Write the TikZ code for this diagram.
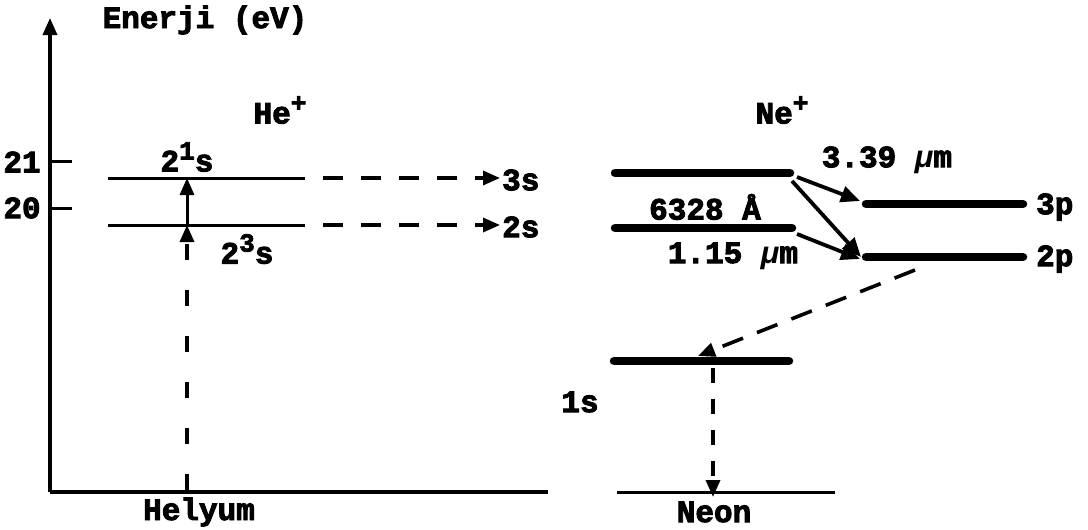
\documentclass[tikz,border=0pt]{standalone}
\usepackage{fontspec}
\setmainfont{Liberation Mono}[BoldFeatures={FakeBold=3}]
\usetikzlibrary{arrows.meta}
\newcommand{\supx}[1]{\raisebox{12pt}{\fontsize{26}{26}\selectfont #1}}
\begin{document}
\begin{tikzpicture}[x=1pt,y=-1pt,
  lbl/.style={inner sep=0pt, font=\fontsize{31}{36}\selectfont\bfseries},
  axis/.style={line width=3.4pt},
  hlev/.style={line width=3pt},
  nlev/.style={line width=8.5pt, line cap=round},
  tipa/.style={-{Triangle[length=17pt,width=14pt]}},
  hdash/.style={line width=3.4pt, dash pattern=on 20pt off 18pt},
  vdash/.style={line width=3.4pt, dash pattern=on 16pt off 30pt},
  ndash/.style={line width=3.6pt, dash pattern=on 22pt off 15pt},
  nvdash/.style={line width=3.4pt, dash pattern=on 15pt off 16pt},
  tarrow/.style={line width=3.8pt, -{Triangle[length=19pt,width=16pt]}}
]
\useasboundingbox (0,0) rectangle (1088,530);
% axes
\coordinate (orig) at (50,492);
\coordinate (ytop) at (50,18);
\coordinate (xend) at (548,492);
\draw[axis,tipa] (orig) -- (ytop);
\draw[axis] (orig) -- (xend);
\coordinate (t21) at (50,161); \coordinate (t21e) at (72,161);
\coordinate (t20) at (50,208); \coordinate (t20e) at (72,208);
\draw[hlev] (t21) -- (t21e);
\draw[hlev] (t20) -- (t20e);
\node[lbl] (l21) at (22,162) {21};
\node[lbl] (l20) at (22,208) {20};
\node[lbl] (ylab) at (205,20) {Enerji (eV)};
% Helium
\node[lbl] (hep) at (280,110) {He\supx{+}};
\coordinate (h1a) at (108,178); \coordinate (h1b) at (305,178);
\coordinate (h2a) at (108,225); \coordinate (h2b) at (305,225);
\draw[hlev] (h1a) -- (h1b);
\draw[hlev] (h2a) -- (h2b);
\node[lbl] (l21s) at (187,157) {2\supx{1}s};
\node[lbl] (l23s) at (247,249) {2\supx{3}s};
\coordinate (hu) at (187,178); \coordinate (hl) at (187,225);
\coordinate (hb) at (187,490);
\draw[line width=3pt,tipa] (hl) -- (hu);
\draw[vdash,tipa] (hb) -- (hl);
\coordinate (d1a) at (323,178); \coordinate (d1b) at (500,178);
\coordinate (d2a) at (323,225); \coordinate (d2b) at (500,225);
\draw[hdash,tipa] (d1a) -- (d1b);
\draw[hdash,tipa] (d2a) -- (d2b);
\node[lbl,anchor=west] (s3) at (502,180) {3s};
\node[lbl,anchor=west] (s2) at (502,227) {2s};
\node[lbl] (hely) at (199,512) {Helyum};
% Neon
\node[lbl] (nep) at (782,110) {Ne\supx{+}};
\coordinate (n3a) at (615,173); \coordinate (n3b) at (790,173);
\coordinate (n2a) at (615,228); \coordinate (n2b) at (792,228);
\coordinate (p3a) at (866,204); \coordinate (p3b) at (1023,204);
\coordinate (p2a) at (866,257); \coordinate (p2b) at (1023,257);
\coordinate (n1a) at (614,361); \coordinate (n1b) at (789,361);
\draw[nlev] (n3a) -- (n3b);
\draw[nlev] (n2a) -- (n2b);
\draw[nlev] (p3a) -- (p3b);
\draw[nlev] (p2a) -- (p2b);
\draw[nlev] (n1a) -- (n1b);
\coordinate (nba) at (617,492); \coordinate (nbb) at (835,492);
\draw[line width=3pt] (nba) -- (nbb);
\coordinate (a1s) at (797,177); \coordinate (a1e) at (860,201);
\coordinate (a2s) at (792,181); \coordinate (a2e) at (861,257);
\coordinate (a3s) at (797,234); \coordinate (a3e) at (860,259);
\draw[tarrow] (a1s) -- (a1e);
\draw[tarrow] (a2s) -- (a2e);
\draw[tarrow] (a3s) -- (a3e);
\coordinate (ds) at (915,270); \coordinate (de) at (698,356);
\draw[ndash,tipa] (ds) -- (de);
\coordinate (vs) at (713,368); \coordinate (ve) at (713,497);
\draw[nvdash,tipa] (vs) -- (ve);
\node[lbl] (w1) at (887,160) {3.39 {\itshape µ}m};
\node[lbl] (w2) at (705,207) {6328 Å};
\node[lbl] (w3) at (733,256) {1.15 {\itshape µ}m};
\node[lbl,anchor=west] (l3p) at (1036,207) {3p};
\node[lbl,anchor=west] (l2p) at (1036,259) {2p};
\node[lbl] (l1s) at (580,402) {1s};
\node[lbl] (neon) at (714,512) {Neon};
\end{tikzpicture}
\end{document}
